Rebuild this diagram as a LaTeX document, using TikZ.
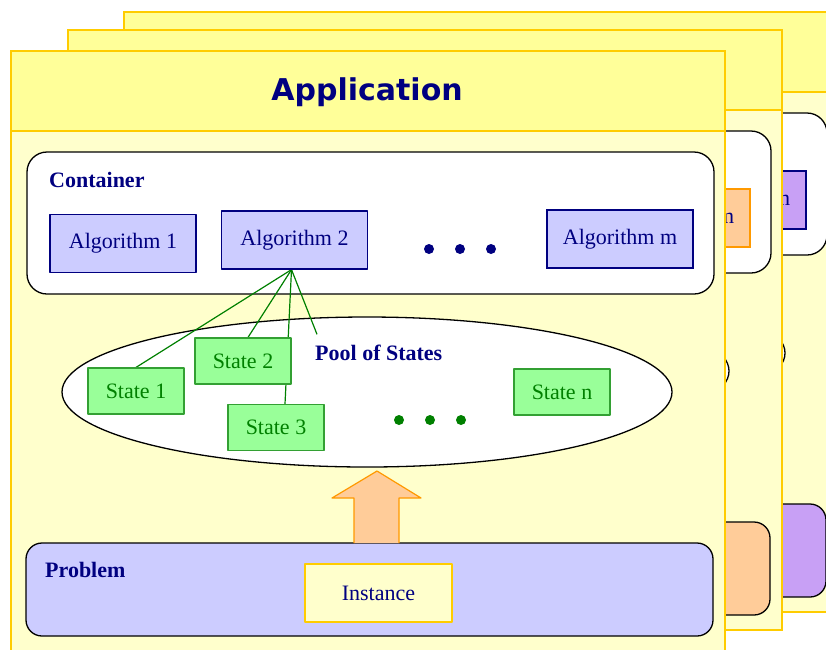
\documentclass[tikz,border=0pt]{standalone}
\usepackage{fontspec}
\setmainfont{Liberation Serif}
\newfontfamily\titlefont{DejaVu Sans}
\usetikzlibrary{calc}
\definecolor{navy}{RGB}{0,0,128}
\definecolor{pagehead}{RGB}{255,255,153}
\definecolor{pagebody}{RGB}{255,255,204}
\definecolor{pageline}{RGB}{255,204,0}
\definecolor{algofill}{RGB}{204,204,255}
\definecolor{peach}{RGB}{255,204,153}
\definecolor{peachline}{RGB}{255,153,0}
\definecolor{lilac}{RGB}{200,160,245}
\definecolor{statefill}{RGB}{153,255,153}
\definecolor{stateline}{RGB}{51,160,51}
\definecolor{statetext}{RGB}{0,128,0}
\pgfdeclarelayer{base}
\pgfdeclarelayer{wires}
\pgfsetlayers{base,wires,main}
\begin{document}
\begin{tikzpicture}[x=1pt,y=-1pt,line join=round,
  algobox/.style={draw=navy,fill=algofill,line width=1.2pt,minimum width=146pt,minimum height=58pt,text=navy,font=\fontsize{22}{26}\selectfont},
  statebox/.style={draw=stateline,fill=statefill,line width=1.2pt,minimum width=96pt,minimum height=46pt,text=statetext,font=\fontsize{22}{26}\selectfont},
  tag/.style={text=navy,font=\fontsize{22}{26}\selectfont\bfseries,anchor=base west,inner sep=0pt}]
  \useasboundingbox (0,0) rectangle (826,649);
  \clip (0,0) rectangle (826,649);
  % three copies of the application, back to front
  \begin{pgfonlayer}{base}
  \foreach \i/\dx/\dy/\algfill/\algline/\probfill in {3/113/-39/lilac/navy/lilac,2/57/-21/peach/peachline/peach,1/0/0/algofill/navy/algofill}{
    \begin{scope}[shift={(\dx,\dy)}]
      \draw[pageline,fill=pagebody,line width=1.3pt] (11,51) rectangle (725,651);
      \draw[pageline,fill=pagehead,line width=1.3pt] (11,51) rectangle (725,131);
      \draw[rounded corners=20pt,fill=white,line width=1.3pt] (27,152) rectangle (714,294);
      \node[algobox,fill=\algfill,draw=\algline] (algm\i) at (620,239) {Algorithm m};
      \draw[fill=white,line width=1.3pt] (367,392) ellipse[x radius=305,y radius=75];
      \draw[rounded corners=16pt,fill=\probfill,line width=1.3pt] (26,543) rectangle (713,636);
    \end{scope}
  }
  \end{pgfonlayer}
  \node[anchor=base,text=navy,font=\titlefont\fontsize{30}{36}\selectfont\bfseries] (title) at (367,100) {Application};
  \node[tag] (cont) at (49,187) {Container};
  \node[algobox] (alg1) at (123,243.5) {Algorithm 1};
  \node[algobox] (alg2) at (294.5,240) {Algorithm 2};
  \foreach \x in {429,460,491} \fill[navy] (\x,249) circle[radius=5];
  \node[tag] (pool) at (315,360) {Pool of States};
  \node[statebox] (s1) at (136,391) {State 1};
  \node[statebox] (s2) at (243,361) {State 2};
  \node[statebox] (s3) at (276,427.5) {State 3};
  \node[statebox] (sn) at (562,392) {State n};
  \foreach \x in {399,430,461} \fill[statetext] (\x,420) circle[radius=5];
  \begin{pgfonlayer}{wires}
    \draw[statetext,line width=1.2pt] ([xshift=-3pt]alg2.south) -- (s1.north);
    \draw[statetext,line width=1.2pt] ([xshift=-3pt]alg2.south) -- ([xshift=5pt]s2.north);
    \draw[statetext,line width=1.2pt] ([xshift=-3pt]alg2.south) -- ([xshift=9pt]s3.north);
    \draw[statetext,line width=1.2pt] ([xshift=-3pt]alg2.south) -- ([shift={(2pt,10pt)}]pool.north west);
  \end{pgfonlayer}
  \draw[peachline,fill=peach,line width=1.2pt] (354,543) -- (354,498) -- (332,498) -- (377,471) -- (421,498) -- (399,498) -- (399,543);
  \node[tag] (prob) at (45,577) {Problem};
  \node[draw=pageline,fill=pagebody,line width=1.2pt,minimum width=147pt,minimum height=58pt,text=navy,font=\fontsize{22}{26}\selectfont] (inst) at (378.5,593) {Instance};
\end{tikzpicture}
\end{document}
